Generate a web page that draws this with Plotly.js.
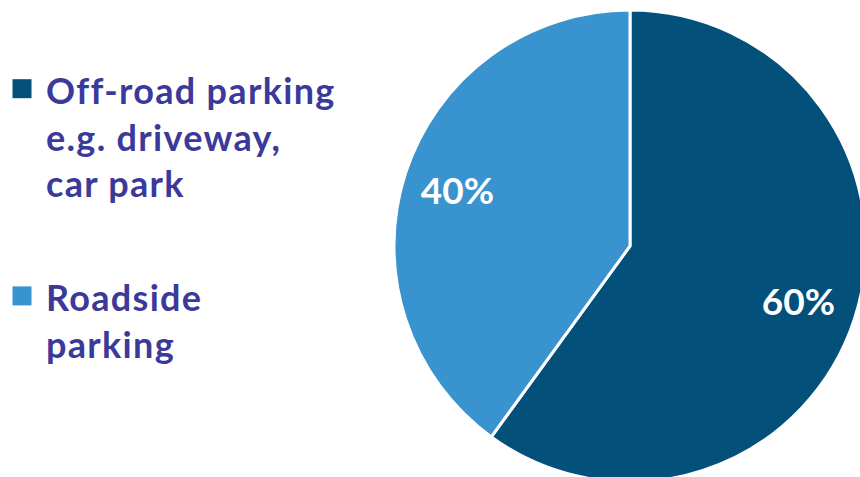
<!DOCTYPE html>
<html>
<head>
<meta charset="utf-8">
<script src="https://cdn.plot.ly/plotly-3.0.1.min.js"></script>
<style>
html, body { margin:0; padding:0; overflow:hidden; background:#fff; width:860px; height:477px; position:relative; }
#chart { position:absolute; left:0; top:-134px; width:1000px; height:760px; }
.legend .scrollbox { clip-path: none !important; }
.legend .legendtext { letter-spacing:1.3px; }
</style>
</head>
<body>
<div id="chart"></div>
<script>
const categories = ["Off-road parking<br>e.g. driveway,<br>car park<br> ", "Roadside<br>parking"];
const values = [60, 40];
const colors = ["#03517A", "#3893CE"];

const W = 1000, H = 760;
const cx = 630, cy = 380, R = 236, R2 = 354;

function dom(r) {
  return { x: [(cx - r) / W, (cx + r) / W], y: [1 - (cy + r) / H, 1 - (cy - r) / H] };
}

const pie = {
  type: "pie",
  labels: categories,
  values: values,
  sort: false,
  direction: "clockwise",
  rotation: 0,
  marker: { colors: colors, line: { color: "#ffffff", width: 3 } },
  textinfo: "none",
  hoverinfo: "none",
  domain: dom(R)
};

const labelsPie = {
  type: "pie",
  labels: categories,
  values: values,
  sort: false,
  direction: "clockwise",
  rotation: 0,
  showlegend: false,
  marker: { colors: ["rgba(0,0,0,0)", "rgba(0,0,0,0)"], line: { width: 0 } },
  texttemplate: "%{percent:.0%}",
  textposition: "inside",
  insidetextorientation: "horizontal",
  textfont: { family: "Lato, 'Open Sans', sans-serif", size: 37, color: "#ffffff", weight: "bold" },
  hoverinfo: "none",
  domain: dom(R2)
};

const layout = {
  width: W, height: H,
  margin: { l: 0, r: 0, t: 0, b: 0 },
  paper_bgcolor: "rgba(0,0,0,0)",
  showlegend: true,
  legend: {
    x: 0.006, xanchor: "left", y: 0.745, yanchor: "top",
    font: { family: "Lato, 'Open Sans', sans-serif", size: 36, color: "#3B3A9A", weight: "bold" },
    valign: "top",
    itemwidth: 30,
    traceorder: "normal",
    bgcolor: "rgba(0,0,0,0)"
  }
};

Plotly.newPlot("chart", [pie, labelsPie], layout, { staticPlot: true }).then(function () {
  const items = document.querySelectorAll(".legend .traces");
  items.forEach(function (it, i) {
    it.querySelectorAll(".legendpoints path").forEach(function (p) {
      p.style.setProperty("stroke-width", "0", "important");
      p.setAttribute("d", "M9.5,9.5H-9.5V-9.5H9.5Z");
      p.setAttribute("transform", "translate(16,-1)");
    });
    if (i === 1) {
      const t = it.getAttribute("transform") || "";
      const m = t.match(/translate\(([-\d.]+)[ ,]+([-\d.]+)\)/);
      if (m) it.setAttribute("transform", "translate(" + m[1] + "," + (parseFloat(m[2]) + 17) + ")");
    }
  });
});
</script>
</body>
</html>
